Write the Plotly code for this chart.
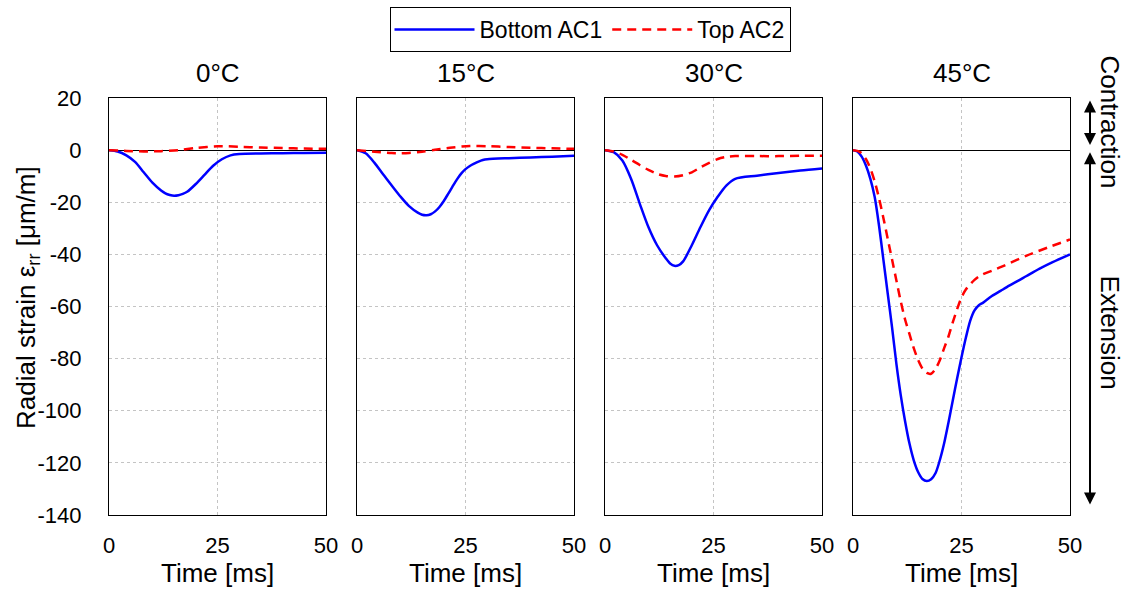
import plotly.graph_objects as go

# ---------------- data ----------------
temps = ["0°C", "15°C", "30°C", "45°C"]
series_names = ["Bottom AC1", "Top AC2"]

t_b0 = [0, 2, 4, 6, 8, 10, 12, 13, 14, 15, 16, 17, 18, 20, 22, 24, 26, 28, 30, 35, 40, 45, 50]
v_b0 = [0, -0.5, -2, -4.5, -8.5, -12.5, -15.5, -16.6, -17.2, -17.5, -17.3, -16.8, -16, -13, -9.5, -6, -3.5, -2, -1.5, -1.3, -1.2, -1.1, -1.0]
t_r0 = [0, 4, 8, 12, 16, 20, 25, 30, 35, 40, 45, 50]
v_r0 = [0, -0.3, -0.5, -0.4, 0, 0.8, 1.5, 1.3, 1.0, 0.8, 0.6, 0.5]

t_b15 = [0, 2, 4, 6, 8, 10, 12, 14, 15, 16, 17, 18, 19, 20, 21, 22, 23, 24, 25, 26, 27, 28, 29, 30, 35, 40, 45, 50]
v_b15 = [0, -1.2, -4.8, -9.3, -13.6, -17.8, -21.5, -24, -24.8, -25, -24.6, -23.5, -21.8, -19.5, -16.8, -14, -11.3, -9, -7.3,
         -6.1, -5.2, -4.4, -3.8, -3.5, -3.1, -2.8, -2.5, -2.2]
t_r15 = [0, 4, 8, 10, 12, 15, 18, 22, 26, 30, 35, 40, 45, 50]
v_r15 = [0, -0.6, -1.1, -1.2, -1.1, -0.6, 0.1, 1.0, 1.6, 1.5, 1.2, 0.9, 0.7, 0.5]

t_b30 = [0, 2, 4, 6, 8, 10, 12, 14, 15, 16, 17, 18, 20, 22, 24, 26, 28, 30, 35, 40, 45, 50]
v_b30 = [0, -0.8, -4, -11, -20.5, -29.5, -36.5, -41.5, -43.5, -44.4, -44.1, -42.7, -36.5, -29.5, -23, -17.8, -13.5, -11, -9.8, -8.8, -7.8, -7.0]
t_r30 = [0, 2, 4, 6, 8, 10, 12, 14, 16, 18, 20, 22, 24, 26, 28, 30, 35, 40, 45, 50]
v_r30 = [0, -0.5, -1.8, -3.7, -5.7, -7.6, -9.1, -9.9, -10.1, -9.6, -8.5, -6.6, -4.9, -3.4, -2.6, -2.3, -2.3, -2.3, -2.2, -2.2]

t_b45 = [0, 1, 2, 3, 4, 5, 6, 7, 8, 9, 10, 11, 12, 13, 14, 15, 16, 17, 18, 19, 20,
         21, 22, 23, 24, 25, 26, 27, 28, 29, 30, 32, 34, 36, 38, 40, 43, 46, 50]
v_b45 = [0, -0.5, -2.5, -6, -11, -18, -29, -42, -55, -68, -82, -94, -104, -112.5, -119, -123.5, -126.2, -127, -126.3, -124, -119,
         -112.5, -104.5, -96, -87.5, -79.5, -72, -65.5, -61.5, -59.5, -58.5, -56, -54, -52, -50.2, -48.3, -45.5, -43, -40]
t_r45 = [0, 1, 2, 3, 4, 5, 6, 7, 8, 9, 10, 11, 12, 13, 14, 15, 16, 17, 18, 19, 20,
         21, 22, 23, 24, 25, 26, 27, 28, 29, 30, 32, 35, 40, 45, 50]
v_r45 = [0, -0.3, -1.2, -3.5, -7, -12, -18.5, -26, -34, -42, -50, -58, -65, -70.5, -76, -80.5, -83.8, -85.5, -85.8, -84, -80.6,
         -76, -71.5, -66, -61, -56.5, -53.5, -51.5, -49.8, -48.5, -47.6, -46.3, -44.2, -40.5, -37.3, -34.3]

bottom = [(t_b0, v_b0), (t_b15, v_b15), (t_b30, v_b30), (t_b45, v_b45)]
top = [(t_r0, v_r0), (t_r15, v_r15), (t_r30, v_r30), (t_r45, v_r45)]

x_ticks = [0, 25, 50]
y_ticks = [20, 0, -20, -40, -60, -80, -100, -120, -140]

# ---------------- layout geometry ----------------
W, H = 1128, 590
ML, MR, MT, MB = 109, 58, 98, 75
PW = W - ML - MR
PH = H - MT - MB
panel_left_px = [109, 357, 605, 853]
panel_w = 217
FONT = "Liberation Sans, Arial, sans-serif"
TICK = 22
BIG = 26

fig = go.Figure()

for i in range(4):
    xa = "x" if i == 0 else f"x{i+1}"
    ya = "y" if i == 0 else f"y{i+1}"
    fig.add_trace(go.Scatter(
        x=bottom[i][0], y=bottom[i][1], mode="lines", name=series_names[0],
        line=dict(color="#0000FF", width=2.5, shape="spline", smoothing=0.8),
        xaxis=xa, yaxis=ya, showlegend=(i == 0), legendgroup="b"))
    fig.add_trace(go.Scatter(
        x=top[i][0], y=top[i][1], mode="lines", name=series_names[1],
        line=dict(color="#FF0000", width=2.5, dash="9px,6px", shape="spline", smoothing=0.8),
        xaxis=xa, yaxis=ya, showlegend=(i == 0), legendgroup="r"))

axis_common = dict(
    showline=True, mirror=True, linecolor="black", linewidth=1,
    showgrid=True, gridcolor="#C4C4C4", gridwidth=1, griddash="3px,3px",
    ticks="", tickfont=dict(family=FONT, size=TICK, color="black"),
)

layout = dict(
    width=W, height=H,
    margin=dict(l=ML, r=MR, t=MT, b=MB, autoexpand=False),
    plot_bgcolor="white", paper_bgcolor="white",
    font=dict(family=FONT, color="black"),
    showlegend=True,
    legend=dict(
        orientation="h", x=(590 - ML) / PW, xanchor="center",
        y=1 + (MT - 7) / PH, yanchor="top",
        bordercolor="black", borderwidth=1, bgcolor="white",
        font=dict(family=FONT, size=23, color="black"),
        itemwidth=80,
    ),
)

for i in range(4):
    xkey = "xaxis" if i == 0 else f"xaxis{i+1}"
    ykey = "yaxis" if i == 0 else f"yaxis{i+1}"
    ya = "y" if i == 0 else f"y{i+1}"
    xa = "x" if i == 0 else f"x{i+1}"
    d0 = (panel_left_px[i] - ML) / PW
    d1 = (panel_left_px[i] + panel_w - ML) / PW
    layout[xkey] = dict(
        axis_common, domain=[d0, d1], range=[0, 50], tickvals=x_ticks,
        ticktext=[str(v) for v in x_ticks], anchor=ya, zeroline=False,
        ticklabelstandoff=11,
    )
    layout[ykey] = dict(
        axis_common, range=[-140, 20], tickvals=y_ticks,
        ticktext=[str(v) for v in y_ticks], anchor=xa, ticklabelstandoff=22,
        zeroline=True, zerolinecolor="black", zerolinewidth=1,
        showticklabels=(i == 0),
    )

fig.update_layout(**layout)

# panel titles
for i, name in enumerate(temps):
    cx = (panel_left_px[i] + panel_w / 2 - ML) / PW
    fig.add_annotation(text=name, xref="paper", yref="paper", x=cx, y=1 + (MT - 73) / PH,
                       showarrow=False, font=dict(family=FONT, size=BIG, color="black"),
                       xanchor="center", yanchor="middle")

# axis titles
for i in range(4):
    cx = (panel_left_px[i] + panel_w / 2 - ML) / PW
    fig.add_annotation(text="Time [ms]", xref="paper", yref="paper", x=cx, y=-(573 - MT - PH) / PH,
                       showarrow=False, font=dict(family=FONT, size=BIG, color="black"),
                       xanchor="center", yanchor="middle")

fig.add_annotation(text="Radial strain ε<sub>rr</sub> [μm/m]", xref="paper", yref="paper",
                   x=(27 - ML) / PW, y=1 - (298 - MT) / PH, textangle=-90, showarrow=False,
                   font=dict(family=FONT, size=BIG, color="black"),
                   xanchor="center", yanchor="middle")

# contraction / extension arrows
ax_x = (1090 - ML) / PW
fig.add_annotation(x=ax_x, y=2, xref="paper", yref="y", ax=0, ay=19.6, axref="pixel", ayref="y",
                   text="", showarrow=True, arrowhead=2, arrowside="end+start", arrowwidth=2,
                   arrowsize=1.2, arrowcolor="black")
fig.add_annotation(x=ax_x, y=-136, xref="paper", yref="y", ax=0, ay=-0.2, axref="pixel", ayref="y",
                   text="", showarrow=True, arrowhead=2, arrowside="end+start", arrowwidth=2,
                   arrowsize=1.2, arrowcolor="black")
tx = (1110 - ML) / PW
fig.add_annotation(text="Contraction", x=tx, y=11, xref="paper", yref="y", textangle=90,
                   showarrow=False, font=dict(family=FONT, size=BIG, color="black"),
                   xanchor="center", yanchor="middle")
fig.add_annotation(text="Extension", x=tx, y=-70, xref="paper", yref="y", textangle=90,
                   showarrow=False, font=dict(family=FONT, size=BIG, color="black"),
                   xanchor="center", yanchor="middle")

fig.write_html("out.html", config={"displayModeBar": False},
               post_script="document.body.style.margin='0px';")
